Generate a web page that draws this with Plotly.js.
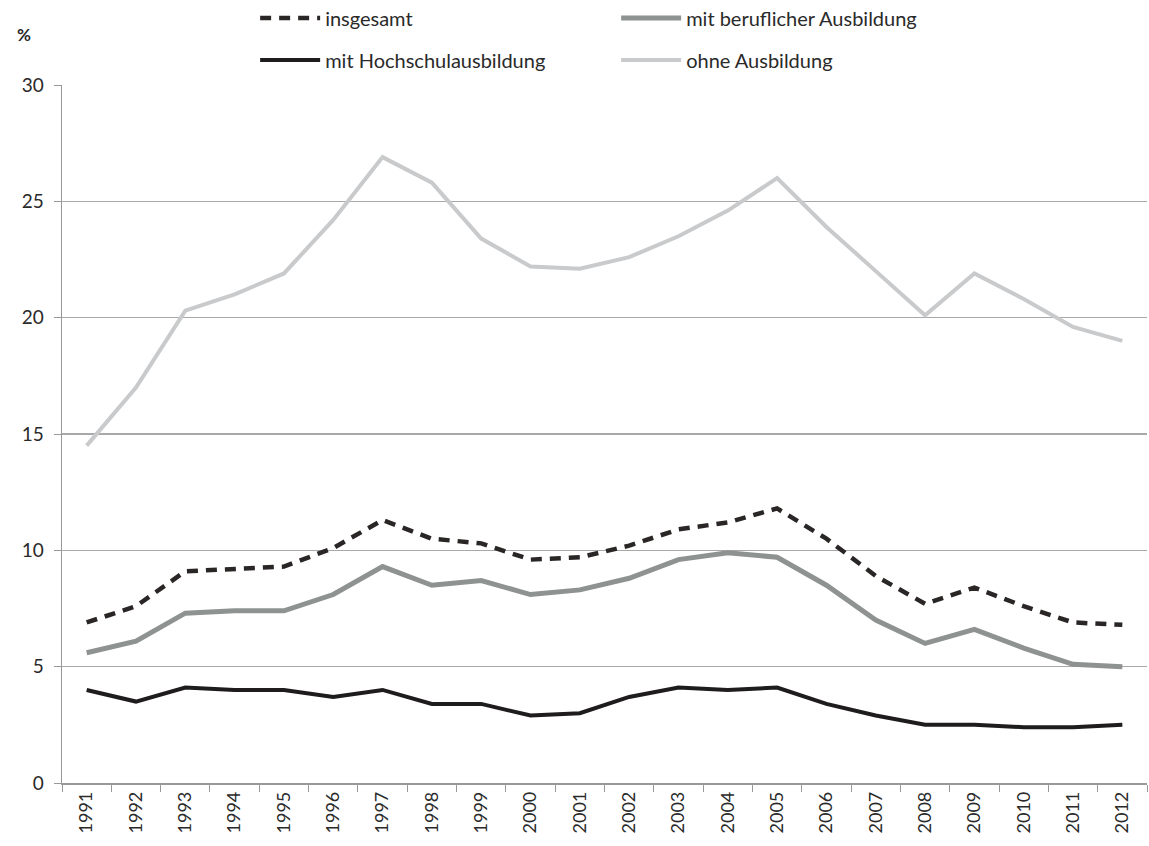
<!DOCTYPE html>
<html><head><meta charset="utf-8">
<script src="https://cdn.plot.ly/plotly-3.0.1.min.js"></script>
<style>html,body{margin:0;padding:0;background:#fff}#c{width:1149px;height:846px}</style>
</head><body><div id="c"></div>
<script>
const years = ["1991","1992","1993","1994","1995","1996","1997","1998","1999","2000","2001","2002","2003","2004","2005","2006","2007","2008","2009","2010","2011","2012"];
const insgesamt = [6.9,7.6,9.1,9.2,9.3,10.1,11.3,10.5,10.3,9.6,9.7,10.2,10.9,11.2,11.8,10.5,8.9,7.7,8.4,7.6,6.9,6.8];
const beruflich = [5.6,6.1,7.3,7.4,7.4,8.1,9.3,8.5,8.7,8.1,8.3,8.8,9.6,9.9,9.7,8.5,7.0,6.0,6.6,5.8,5.1,5.0];
const hochschul = [4.0,3.5,4.1,4.0,4.0,3.7,4.0,3.4,3.4,2.9,3.0,3.7,4.1,4.0,4.1,3.4,2.9,2.5,2.5,2.4,2.4,2.5];
const ohne = [14.5,17.0,20.3,21.0,21.9,24.2,26.9,25.8,23.4,22.2,22.1,22.6,23.5,24.6,26.0,23.9,22.0,20.1,21.9,20.8,19.6,19.0];
const names = ["insgesamt","mit beruflicher Ausbildung","mit Hochschulausbildung","ohne Ausbildung"];

const font = "Lato, Open Sans, sans-serif";
const traces = [
  {x: years, y: insgesamt, name: names[0], legend: "legend", mode: "lines", line: {color: "#2b2626", width: 4.5, dash: "11px,8px"}},
  {x: years, y: beruflich, name: names[1], legend: "legend", mode: "lines", line: {color: "#8e9290", width: 5}},
  {x: years, y: hochschul, name: names[2], legend: "legend2", mode: "lines", line: {color: "#1e1c1c", width: 4}},
  {x: years, y: ohne, name: names[3], legend: "legend2", mode: "lines", line: {color: "#c9cacc", width: 4}}
];
const legBase = {orientation: "h", x: 0.178, xanchor: "left", yanchor: "middle",
    entrywidth: 286, entrywidthmode: "pixels", itemwidth: 60,
    font: {family: font, size: 20, color: "#2a2a2a"}, bgcolor: "rgba(0,0,0,0)"};
const layout = {
  width: 1149, height: 846,
  margin: {l: 62, r: 2, t: 85, b: 63, autoexpand: false},
  paper_bgcolor: "#fff", plot_bgcolor: "#fff",
  font: {family: font, size: 18, color: "#2a2a2a"},
  showlegend: true,
  legend: Object.assign({}, legBase, {y: (783 - 18) / 698}),
  legend2: Object.assign({}, legBase, {y: (783 - 60) / 698}),
  xaxis: {type: "category", tickson: "boundaries", ticks: "outside", ticklen: 7, tickcolor: "#999",
    tickangle: -90, showgrid: false, showline: true, linecolor: "#999", linewidth: 1.5,
    tickfont: {family: font, size: 18, color: "#2a2a2a"}, range: [-0.5, 21.5], zeroline: false},
  yaxis: {range: [0, 30], dtick: 5, ticks: "outside", ticklen: 7, tickcolor: "#999", ticklabelstandoff: 6,
    showgrid: true, gridcolor: "#a8a8a8", gridwidth: 1.3, showline: true, linecolor: "#999", linewidth: 1.5,
    zeroline: false, tickfont: {family: font, size: 19, color: "#2a2a2a"}},
  annotations: [{text: "<b>%</b>", xref: "paper", yref: "paper", x: -0.035, y: (783 - 35) / 698, showarrow: false,
    font: {family: font, size: 17, color: "#2a2a2a"}, xanchor: "center", yanchor: "middle"}]
};
Plotly.newPlot("c", traces, layout, {displayModeBar: false, staticPlot: true});
</script></body></html>
